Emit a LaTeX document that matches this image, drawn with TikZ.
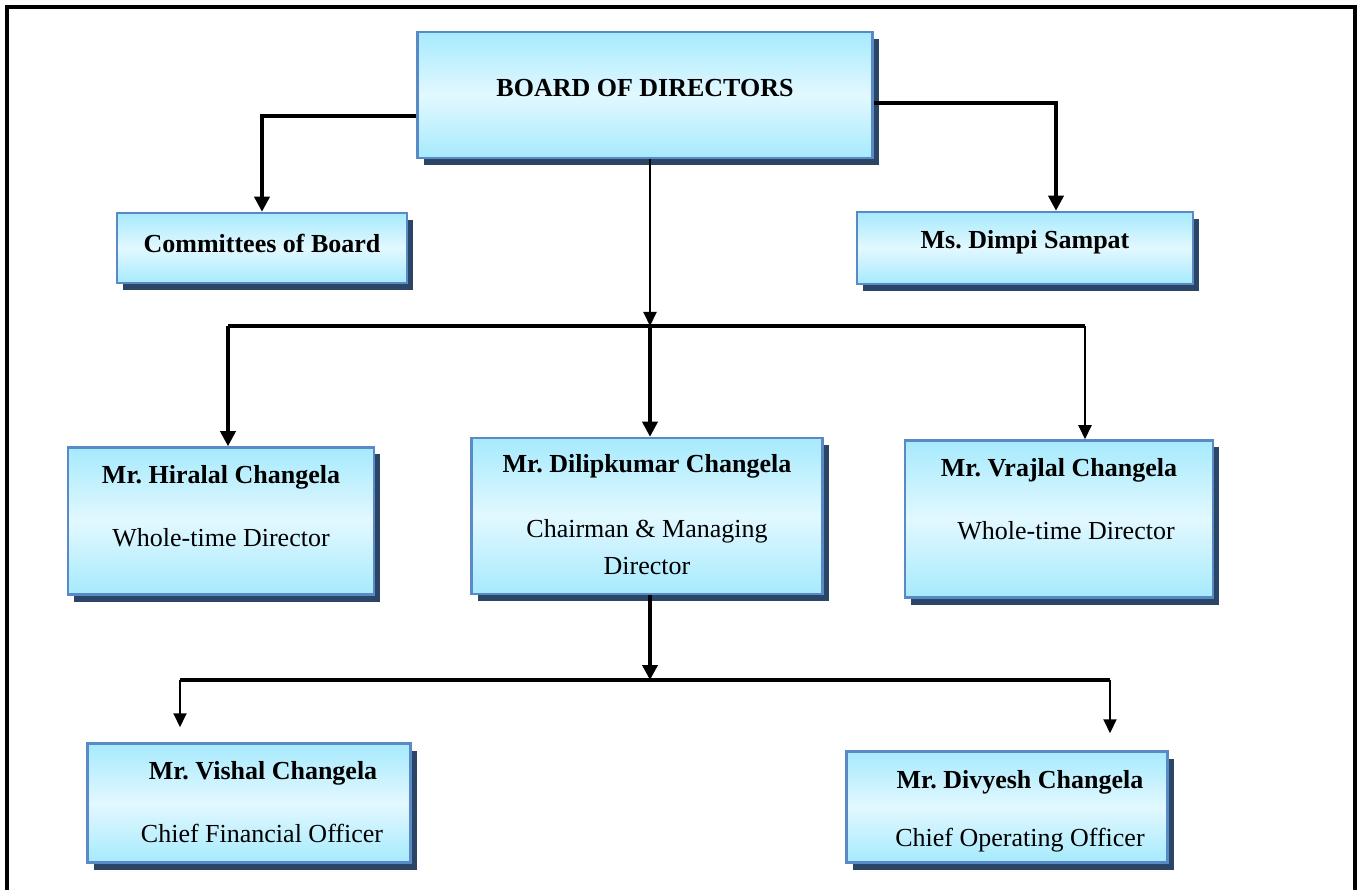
\documentclass[tikz,border=0pt]{standalone}
\usepackage{fontspec}
\setmainfont{Liberation Serif}
\usetikzlibrary{arrows.meta,shadows}
\frenchspacing

\definecolor{boxcyan}{HTML}{A6EAFD}
\definecolor{boxlight}{HTML}{E2F8FF}
\definecolor{boxblue}{HTML}{5A8AC6}
\definecolor{boxshadow}{HTML}{2B4566}

\tikzset{
    orgbox/.style={rectangle, draw=boxblue, line width=2.5pt, inner sep=0pt,
        top color=boxcyan, bottom color=boxcyan, middle color=boxlight,
        general shadow={fill=boxshadow, shadow xshift=6pt, shadow yshift=-7pt}},
    roletext/.style={font=\fontsize{26}{37}\selectfont, align=center, inner sep=0pt},
    nametext/.style={roletext, font=\fontsize{26}{37}\selectfont\bfseries},
    heavyline/.style={line width=3.5pt},
    heavyarrow/.style={line width=3.5pt, -{Triangle[width=15pt,length=15pt]}},
    lightarrow/.style={line width=2pt, -{Triangle[width=13pt,length=14pt]}},
}

\begin{document}
\begin{tikzpicture}[x=1pt,y=-1pt]

\useasboundingbox (0,0) rectangle (1361,890);
\draw[line width=3.5pt] (7,890) -- (7,7) -- (1355,7) -- (1355,890);

% boxes
\node[orgbox, minimum width=455pt, minimum height=126pt] (board) at (645,95) {};
\node[orgbox, minimum width=290pt, minimum height=70pt] (committees) at (262,248) {};
\node[orgbox, minimum width=336pt, minimum height=72pt] (dimpi) at (1025,248) {};
\node[orgbox, minimum width=306pt, minimum height=147pt] (hiralal) at (221,521) {};
\node[orgbox, minimum width=351pt, minimum height=156pt] (dilip) at (647,516) {};
\node[orgbox, minimum width=308pt, minimum height=157pt] (vrajlal) at (1059,519) {};
\node[orgbox, minimum width=323pt, minimum height=119pt] (vishal) at (249,803) {};
\node[orgbox, minimum width=321pt, minimum height=111pt] (divyesh) at (1007,807) {};

% texts
\node[nametext] (board-name) at (645,88) {BOARD OF DIRECTORS};
\node[nametext] (committees-name) at (262,243) {Committees of Board};
\node[nametext] (dimpi-name) at (1025,242) {Ms. Dimpi Sampat};
\node[nametext] (hiralal-name) at (221,477) {Mr. Hiralal Changela};
\node[roletext] (hiralal-role) at (221,538) {Whole-time Director};
\node[nametext] (dilip-name) at (647,466) {Mr. Dilipkumar Changela};
\node[roletext] (dilip-role) at (647,547) {Chairman \& Managing\\Director};
\node[nametext] (vrajlal-name) at (1059,470) {Mr. Vrajlal Changela};
\node[roletext] (vrajlal-role) at (1066,531) {Whole-time Director};
\node[nametext] (vishal-name) at (263,773) {Mr. Vishal Changela};
\node[roletext] (vishal-role) at (262,833) {Chief Financial Officer};
\node[nametext] (divyesh-name) at (1020,782) {Mr. Divyesh Changela};
\node[roletext] (divyesh-role) at (1020,840) {Chief Operating Officer};

% connectors
\coordinate (hubA) at (650,326);
\coordinate (busAL) at (228,326);
\coordinate (busAR) at (1085,326);
\coordinate (hubB) at (650,680);
\coordinate (busBL) at (180,680);
\coordinate (busBR) at (1110,680);

\draw[heavyarrow] ([yshift=-21pt]board.west) -| (committees.north);
\draw[heavyarrow] ([yshift=-8pt]board.east) -| ([xshift=31pt]dimpi.north);
\draw[lightarrow] (hubA |- board.south) -- (hubA);
\draw[heavyline] (busAL) -- (busAR);
\draw[heavyarrow] (busAL) -- (busAL |- hiralal.north);
\draw[heavyarrow] (hubA) -- (hubA |- dilip.north);
\draw[lightarrow] (busAR) -- (busAR |- vrajlal.north);
\draw[heavyarrow] (hubB |- dilip.south) -- (hubB);
\draw[heavyline] (busBL) -- (busBR);
\draw[lightarrow, shorten >=15pt] (busBL) -- (busBL |- vishal.north);
\draw[lightarrow, shorten >=17pt] (busBR) -- (busBR |- divyesh.north);

\end{tikzpicture}
\end{document}
